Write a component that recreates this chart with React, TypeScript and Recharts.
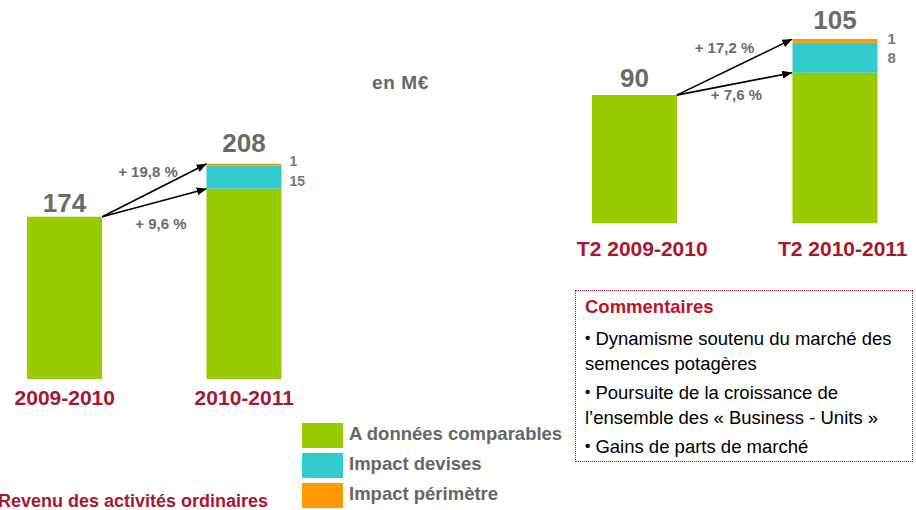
import React from 'react';
import { BarChart, Bar, XAxis, YAxis, LabelList, Legend } from 'recharts';
import * as RAll from 'recharts';

// ---------- data ----------
const seriesNames = ['A données comparables', 'Impact devises', 'Impact périmètre'];

const annualCategories = ['2009-2010', '2010-2011'];
const annualComparable = [174, 192];
const annualFx = [0, 15];
const annualScope = [0, 1];
const annualTotals = [174, 208];
const annualGrowthTotal = '+ 19,8 %';
const annualGrowthComparable = '+ 9,6 %';

const q2Categories = ['T2 2009-2010', 'T2 2010-2011'];
const q2Comparable = [90, 96];
const q2Fx = [0, 8];
const q2Scope = [0, 1];
const q2Totals = [90, 105];
const q2GrowthTotal = '+ 17,2 %';
const q2GrowthComparable = '+ 7,6 %';

const unitLabel = 'en M€';
const annualTitle = 'Revenu des activités ordinaires';
const commentTitle = 'Commentaires';
const commentLines = [
  ['Dynamisme soutenu du marché des', 'semences potagères'],
  ['Poursuite de la croissance de', 'l’ensemble des « Business - Units »'],
  ['Gains de parts de marché'],
];

// ---------- styles ----------
const GREEN = '#99CC00';
const CYAN = '#33CCCC';
const ORANGE = '#FF9900';
const RED = '#A8172F';
const GRAY = '#6B6B6B';
const FONT = 'Arial, "Liberation Sans", sans-serif';

const buildRows = (cats: string[], comp: number[], fx: number[], scope: number[], totals: number[]) =>
  cats.map((c, i) => ({ period: c, comparable: comp[i], fx: fx[i], scope: scope[i], total: totals[i] }));

const annualData = buildRows(annualCategories, annualComparable, annualFx, annualScope, annualTotals);
const q2Data = buildRows(q2Categories, q2Comparable, q2Fx, q2Scope, q2Totals);

const hideZero = (v: any) => (v ? v : '');
// total shown above the topmost non-empty segment
const totalIfGreenTop = (d: any) => (d.fx + d.scope === 0 ? d.total : '');
const totalIfOrangeTop = (d: any) => (d.scope ? d.total : '');

const usePlotAreaHook = (RAll as any).usePlotArea;
const useYDomainHook = (RAll as any).useYAxisDomain;

function GrowthArrows(props: any) {
  const {
    id, barSize, fromValue, toTotal, toBase, topLabel, bottomLabel,
    topOffset, bottomOffset, fallbackPlot, fallbackDomain,
  } = props;
  const hp = usePlotAreaHook ? usePlotAreaHook() : null;
  const hd = useYDomainHook ? useYDomainHook(0) : null;
  const plot = hp && typeof hp.width === 'number' && hp.width > 0 ? hp : fallbackPlot;
  const dom =
    Array.isArray(hd) && typeof hd[0] === 'number' && typeof hd[1] === 'number' ? hd : fallbackDomain;
  const band = plot.width / 2;
  const x1 = plot.x + band * 0.5 + barSize / 2;
  const x2 = plot.x + band * 1.5 - barSize / 2;
  const yOf = (v: number) => plot.y + (plot.height * (dom[1] - v)) / (dom[1] - dom[0]);
  const y1 = yOf(fromValue);
  const yTop = yOf(toTotal);
  const yBase = yOf(toBase);
  const midTop = [(x1 + x2) / 2, (y1 + yTop) / 2];
  const midBase = [(x1 + x2) / 2, (y1 + yBase) / 2];
  const txt = { fill: GRAY, fontSize: 15, fontWeight: 'bold', textAnchor: 'middle' as const, fontFamily: FONT };
  return (
    <g>
      <defs>
        <marker id={id} viewBox="0 0 10 8" markerWidth={10} markerHeight={8} refX={10} refY={4}
          orient="auto" markerUnits="userSpaceOnUse">
          <path d="M0,0 L10,4 L0,8 Z" fill="#000" />
        </marker>
      </defs>
      <line x1={x1} y1={y1} x2={x2} y2={yTop} stroke="#000" strokeWidth={1.6} markerEnd={`url(#${id})`} />
      <line x1={x1} y1={y1} x2={x2} y2={yBase} stroke="#000" strokeWidth={1.6} markerEnd={`url(#${id})`} />
      <text x={midTop[0] + topOffset[0]} y={midTop[1] + topOffset[1] + 5} {...txt}>{topLabel}</text>
      <text x={midBase[0] + bottomOffset[0]} y={midBase[1] + bottomOffset[1] + 5} {...txt}>{bottomLabel}</text>
    </g>
  );
}

const legendContent = (p: any) => {
  const items = (p && p.payload) || [];
  return (
    <div style={{ fontFamily: FONT }}>
      {items.map((it: any, i: number) => (
        <div key={i} style={{ display: 'flex', alignItems: 'center', height: 25, marginBottom: 5 }}>
          <div style={{ width: 41, height: 25, background: it.color }} />
          <span style={{ marginLeft: 6, fontSize: 18.5, fontWeight: 'bold', color: '#666', lineHeight: '25px', whiteSpace: 'nowrap', marginTop: -4 }}>
            {it.value}
          </span>
        </div>
      ))}
    </div>
  );
};

export default function App() {
  const L = { w: 600, h: 510, m: { top: 100, right: 241, bottom: 91, left: 0 }, xh: 40 };
  const Rr = { w: 401, h: 270, m: { top: 10, right: 0, bottom: 6.5, left: 0 }, xh: 40 };
  const lDomain = [69.9, 248.9];
  const rDomain = [55.6, 112.8];
  const lPlot = { x: L.m.left, y: L.m.top, width: L.w - L.m.left - L.m.right, height: L.h - L.m.top - L.m.bottom - L.xh };
  const rPlot = { x: Rr.m.left, y: Rr.m.top, width: Rr.w - Rr.m.left - Rr.m.right, height: Rr.h - Rr.m.top - Rr.m.bottom - Rr.xh };
  const totalStyle = { fill: GRAY, fontSize: 26, fontWeight: 'bold' };

  return (
    <div style={{ position: 'absolute', left: 0, top: 0, width: 916, height: 510, overflow: 'hidden', background: '#fff', fontFamily: FONT }}>
      {/* Left chart */}
      <div style={{ position: 'absolute', left: -25, top: 0 }}>
        <BarChart width={L.w} height={L.h} data={annualData} margin={L.m} barSize={75}>
          <XAxis dataKey="period" axisLine={false} tickLine={false} tickSize={0} tickMargin={11} height={L.xh}
            interval={0} tick={{ fill: RED, fontSize: 21, fontWeight: 'bold' }} />
          <YAxis hide type="number" domain={lDomain} allowDataOverflow />
          <Bar dataKey="comparable" name={seriesNames[0]} stackId="s" fill={GREEN} isAnimationActive={false}>
            <LabelList dataKey={totalIfGreenTop} position="top" offset={5} {...totalStyle} />
          </Bar>
          <Bar dataKey="fx" name={seriesNames[1]} stackId="s" fill={CYAN} isAnimationActive={false}>
            <LabelList dataKey="fx" position="right" offset={8} dy={4} formatter={hideZero} fill="#777" fontSize={14} fontWeight="bold" />
          </Bar>
          <Bar dataKey="scope" name={seriesNames[2]} stackId="s" fill={ORANGE} isAnimationActive={false}>
            <LabelList dataKey="scope" position="right" offset={8} dy={-3} formatter={hideZero} fill="#777" fontSize={14} fontWeight="bold" />
            <LabelList dataKey={totalIfOrangeTop} position="top" offset={12} {...totalStyle} />
          </Bar>
          <Legend layout="vertical" align="center" verticalAlign="middle" content={legendContent}
            wrapperStyle={{ position: 'absolute', left: 327, top: 423, width: 280, height: 90 }} />
          <GrowthArrows id="arrowL" barSize={75} fromValue={annualTotals[0]} toTotal={annualTotals[1]}
            toBase={annualComparable[1]} topLabel={annualGrowthTotal} bottomLabel={annualGrowthComparable}
            topOffset={[-6.5, -18.5]} bottomOffset={[6.5, 21.3]} fallbackPlot={lPlot} fallbackDomain={lDomain} />
        </BarChart>
      </div>

      {/* Right chart */}
      <div style={{ position: 'absolute', left: 534, top: 0 }}>
        <BarChart width={Rr.w} height={Rr.h} data={q2Data} margin={Rr.m} barSize={85}>
          <XAxis dataKey="period" axisLine={false} tickLine={false} tickSize={0} tickMargin={18} height={Rr.xh}
            interval={0} tick={{ fill: RED, fontSize: 21, fontWeight: 'bold', dx: 8 }} />
          <YAxis hide type="number" domain={rDomain} allowDataOverflow />
          <Bar dataKey="comparable" name={seriesNames[0]} stackId="s" fill={GREEN} isAnimationActive={false}>
            <LabelList dataKey={totalIfGreenTop} position="top" offset={8} {...totalStyle} />
          </Bar>
          <Bar dataKey="fx" name={seriesNames[1]} stackId="s" fill={CYAN} isAnimationActive={false}>
            <LabelList dataKey="fx" position="right" offset={10} formatter={hideZero} fill="#777" fontSize={15} fontWeight="bold" />
          </Bar>
          <Bar dataKey="scope" name={seriesNames[2]} stackId="s" fill={ORANGE} isAnimationActive={false}>
            <LabelList dataKey="scope" position="right" offset={10} dy={-2} formatter={hideZero} fill="#777" fontSize={15} fontWeight="bold" />
            <LabelList dataKey={totalIfOrangeTop} position="top" offset={10.5} {...totalStyle} />
          </Bar>
          <GrowthArrows id="arrowR" barSize={85} fromValue={q2Totals[0]} toTotal={q2Totals[1]}
            toBase={q2Comparable[1]} topLabel={q2GrowthTotal} bottomLabel={q2GrowthComparable}
            topOffset={[-10, -19]} bottomOffset={[2, 11]} fallbackPlot={rPlot} fallbackDomain={rDomain} />
        </BarChart>
      </div>

      {/* unit */}
      <div style={{ position: 'absolute', left: 372, top: 73, fontSize: 19, lineHeight: '20px', fontWeight: 'bold', color: '#666', whiteSpace: 'nowrap', letterSpacing: 0.6 }}>
        {unitLabel}
      </div>

      {/* left title */}
      <div style={{ position: 'absolute', left: -2, top: 492, fontSize: 18, lineHeight: '18px', fontWeight: 'bold', color: RED, whiteSpace: 'nowrap' }}>
        {annualTitle}
      </div>

      {/* comments box */}
      <div style={{ position: 'absolute', left: 575, top: 290, width: 336, height: 170, border: `1px dotted ${RED}`, boxSizing: 'content-box' }}>
        <div style={{ paddingLeft: 9, whiteSpace: 'nowrap' }}>
          <div style={{ marginTop: 3, fontSize: 18.5, lineHeight: '25px', fontWeight: 'bold', color: '#C0102A' }}>{commentTitle}</div>
          {commentLines.map((lines, i) => (
            <div key={i} style={{ marginTop: i === 0 ? 6 : 3, fontSize: 18.5, lineHeight: '25px', color: '#000' }}>
              {lines.map((ln, j) => (
                <div key={j}>
                  {j === 0 ? <span style={{ fontSize: 15, fontWeight: 'bold', verticalAlign: '2px' }}>•</span> : null}
                  {j === 0 ? ' ' : ''}
                  {ln}
                </div>
              ))}
            </div>
          ))}
        </div>
      </div>
    </div>
  );
}
